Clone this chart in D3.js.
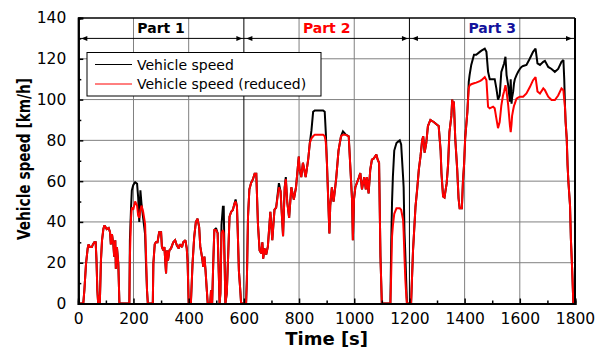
<!DOCTYPE html>
<html><head><meta charset="utf-8">
<script src="https://cdn.jsdelivr.net/npm/d3@7/dist/d3.min.js"></script>
<style>body{margin:0;background:#fff} svg{display:block}</style>
</head><body>
<svg id="c" width="609" height="360"></svg>
<script>
// ---- data ----
const time = [
  0,18,22,28,34,37,42,49,53,58,
  63,66,69,72,75,78,82,86,91,95,
  103,110,115,118,122,127,130,134,136,140,
  145,149,185,187,191,194,199,206,213,217,
  221,225,229,235,242,245,249,252,270,272,
  277,281,287,293,300,303,308,312,315,318,
  321,325,330,336,344,351,357,364,368,376,
  380,388,393,396,400,408,414,420,426,432,
  438,442,448,453,457,461,465,469,478,481,
  485,489,493,499,505,509,512,515,519,524,
  527,531,533,538,543,548,554,560,566,570,
  575,578,582,587,590,608,611,615,620,626,
  633,639,645,651,657,663,667,670,675,681,
  687,696,703,711,717,727,733,742,748,752,
  757,764,772,781,789,799,802,808,814,824,
  833,839,845,851,857,870,887,893,897,901,
  910,913,919,925,931,935,943,952,959,968,
  980,985,992,995,999,1004,1016,1022,1028,1036,
  1042,1046,1052,1058,1064,1070,1080,1085,1090,1095,
  1100,1131,1134,1137,1140,1145,1153,1160,1165,1170,
  1177,1179,1182,1185,1189,1191,1206,1213,1222,1228,
  1234,1240,1246,1250,1255,1261,1267,1276,1288,1300,
  1306,1313,1316,1322,1327,1335,1340,1345,1352,1355,
  1358,1361,1366,1373,1378,1382,1390,1394,1398,1402,
  1410,1415,1418,1424,1434,1442,1455,1461,1473,1479,
  1485,1491,1503,1509,1515,1521,1527,1533,1539,1543,
  1548,1552,1558,1564,1567,1570,1572,1576,1579,1582,
  1588,1594,1600,1606,1612,1624,1636,1648,1657,1664,
  1673,1685,1691,1703,1715,1727,1739,1751,1758,1761,
  1764,1766,1770,1773,1776,1782,1785,1790,1794,1800
];
const speedReduced = [
  0,0,6.5,19.6,27,29,27.7,27.7,29,30,
  30,21,6.5,0,4,0,21,31,36.7,38.3,
  36.5,37,35,29,34,29,23,31,17,27.7,
  19.6,0,0,23,42,47,46,50,48,43,
  42,45.7,48,45,39,26,6.5,0,0,19.6,
  29,30,30,35,35,27.7,26,27.7,21,14.7,
  26,21,26,27,30,31,28.5,27,29,27.7,
  30,31,27,21,0,0,19.6,32.6,40,41.6,
  37.5,28,23,18,23,16.4,8,0,0,6.5,
  0,19.7,36,36,34.5,15,0,5,34.5,36,
  34.5,15,0,5,23,42.6,45,45.9,49,50,
  47.5,34.5,16,6.5,0,0,12,42.6,56,59,
  61,63.6,63.6,39,26,24.6,30,22,27,24,
  28,45,31,46,47,57,55,33,57,61,
  50,42,57,51,57,72,65.6,62,69,62,
  70.5,78.7,81,82,82.8,82.8,82.8,82,79,69,
  34.4,48,57,50,57,62,75,82,82.8,82.8,
  82,69,51,31,51,57,61.5,64,56,62,
  56,62,54,65.6,70.5,71,73,70.5,69,23,
  0,0,15,33,38,44,46.7,46.7,46.7,46,
  41,35,23,12,3,0,0,26,47.5,56,
  65.6,72,80,82,74,78.7,87,90,89,87.7,
  87,75,64,52.5,52,59,68,84,92,100,
  96,99,81,66,51.6,46.7,46.7,60,68,81,
  94,105.5,107,107.5,108,108.3,109,109.5,111,109.5,
  96.5,95.7,96.5,95.7,90.8,86,89,97,102,104,
  107,104,97,87.5,84,88,92,95,97,98,
  100.5,101,101.4,101.4,101.4,103,106,109.5,111,104,
  103,105.5,104.6,101.4,99.8,99.8,102,105.5,104.6,100,
  95.7,89,81,68,59.8,48,32,15.7,0,0
];
const speed = [
  0,0,6.5,19.6,27,29,27.7,27.7,29,30,
  30,21,6.5,0,4,0,21,31,36.7,38.3,
  36.5,37,35,29,34,29,23,31,17,27.7,
  19.6,0,0,31,46.5,55.5,58,59.5,58.7,52,
  40,55.5,49,42,34,21,6.5,0,0,19.6,
  29,30,30,35,35,27.7,26,27.7,21,14.7,
  26,21,26,27,30,31,28.5,27,29,27.7,
  30,31,27,21,0,0,19.6,32.6,40,41.6,
  37.5,28,23,18,23,16.4,8,0,0,6.5,
  0,19.7,36,37,34.5,15,0,5,38.6,47.5,
  47.5,15,0,5,23,42.6,45,45.9,49,51,
  47.5,34.5,16,6.5,0,0,12,42.6,56,59,
  61,63.6,63.6,39,26,24.6,30,22,27,24,
  28,45,31,46,47,59,55,33,57,62,
  50,42,57,51,57,72,65.6,62,69,62,
  70.5,78.7,85,94,94.7,94.7,94.7,94,83.6,69,
  34.4,48,57,50,57,62,75,82,84.4,83,
  82,69,51,31,51,57,61.5,64,56,62,
  56,62,54,65.6,70.5,71,73,70.5,69,23,
  0,0,30,50,62,75,78.7,79.5,80,78,
  62,57,35,24.6,8,0,0,26,47.5,56,
  65.6,72,80,82,74,78.7,87,90,89,87.7,
  87,75,64,52.5,52,59,68,84,92,100,
  96,99,81,66,51.6,46.7,46.7,60,68,81,
  94,108.7,112,117,122,122,123.4,124,125,123.4,
  113.6,110,110,110,105.5,100,102,113.6,116,117.7,
  121,112,107,99,110,98,101,104,108,110,
  112,113.6,115,116,116.5,117,120,123.4,125,117.7,
  117,118.5,119,116,115,113.6,115,118.5,119.4,110,
  95.7,89,81,68,59.8,48,32,15.7,0,0
];
const xTicks = [0,200,400,600,800,1000,1200,1400,1600,1800];
const yTicks = [0,20,40,60,80,100,120,140];
const partNames = ["Part 1","Part 2","Part 3"];
const partBounds = [0,600,1200,1800];
const partColors = ["#000000","#ff0000","#12129c"];
const seriesNames = ["Vehicle speed","Vehicle speed (reduced)"];
const seriesColors = ["#000000","#ff0000"];
const xTitle = "Time [s]";
const yTitle = "Vehicle speed [km/h]";

// ---- drawing ----
const svg = d3.select("#c");
const font = "DejaVu Sans, Verdana, sans-serif";
const x = d3.scaleLinear().domain([0,1800]).range([78.3,575]);
const y = d3.scaleLinear().domain([0,140]).range([303.5,18]);
const L = x(0), R = x(1800), T = y(140), B = y(0);

svg.append("rect").attr("width",609).attr("height",360).attr("fill","#fff");

// grid
const g = svg.append("g");
g.selectAll(".gx").data(xTicks.filter(t => !partBounds.includes(t))).join("line")
  .attr("x1",d=>x(d)).attr("x2",d=>x(d)).attr("y1",T).attr("y2",B)
  .attr("stroke","#808080").attr("stroke-width",1);
g.selectAll(".gy").data(yTicks.filter(t => t>0 && t<140)).join("line")
  .attr("x1",L).attr("x2",R).attr("y1",d=>y(d)).attr("y2",d=>y(d))
  .attr("stroke","#808080").attr("stroke-width",1);
// part separators
g.selectAll(".ps").data(partBounds.slice(1,-1)).join("line")
  .attr("x1",d=>x(d)).attr("x2",d=>x(d)).attr("y1",T).attr("y2",B)
  .attr("stroke","#000").attr("stroke-width",1);

// clip
svg.append("defs").append("clipPath").attr("id","clip")
  .append("rect").attr("x",L).attr("y",T).attr("width",R-L).attr("height",B-T);

const idx = d3.range(time.length);
const line = vals => d3.line().x(i=>x(time[i])).y(i=>y(vals[i]))(idx);
const dg = svg.append("g").attr("clip-path","url(#clip)");
dg.append("path").attr("d",line(speed)).attr("fill","none")
  .attr("stroke",seriesColors[0]).attr("stroke-width",2).attr("stroke-linejoin","miter").attr("stroke-miterlimit",2);
dg.append("path").attr("d",line(speedReduced)).attr("fill","none")
  .attr("stroke",seriesColors[1]).attr("stroke-width",2).attr("stroke-linejoin","miter").attr("stroke-miterlimit",2);

// part arrow line
const ay = y(130);
svg.append("line").attr("x1",L).attr("x2",R).attr("y1",ay).attr("y2",ay)
  .attr("stroke","#000").attr("stroke-width",1);
partNames.forEach((p,i)=>{
  const xl = x(partBounds[i]) + (i===0?3:2.5);
  const xr = x(partBounds[i+1]) - (i===2?3:1.5);
  svg.append("path").attr("d",`M${xl},${ay} L${xl+6},${ay-2.5} L${xl+6},${ay+2.5} Z`).attr("fill","#000");
  svg.append("path").attr("d",`M${xr},${ay} L${xr-6},${ay-2.5} L${xr-6},${ay+2.5} Z`).attr("fill","#000");
  svg.append("text").attr("x",x((partBounds[i]+partBounds[i+1])/2)).attr("y",33)
    .attr("text-anchor","middle").attr("font-family",font).attr("font-weight","bold")
    .attr("font-size",14).attr("fill",partColors[i]).text(p);
});

// legend
const lg = svg.append("g");
lg.append("rect").attr("x",87).attr("y",52.5).attr("width",234).attr("height",43.5)
  .attr("fill","#fff").attr("stroke","#000").attr("stroke-width",1);
seriesNames.forEach((n,i)=>{
  const ly = 64.5 + i*19.5;
  lg.append("line").attr("x1",95).attr("x2",132).attr("y1",ly).attr("y2",ly)
    .attr("stroke",seriesColors[i]).attr("stroke-width",1);
  lg.append("text").attr("x",137).attr("y",ly+5).attr("font-family",font)
    .attr("font-size",14).attr("fill","#000").text(n);
});

// frame
svg.append("line").attr("x1",L).attr("x2",R).attr("y1",T).attr("y2",T).attr("stroke","#000").attr("stroke-width",1.5);
svg.append("line").attr("x1",R).attr("x2",R).attr("y1",T).attr("y2",B).attr("stroke","#000").attr("stroke-width",2);

// axes
const xa = svg.append("g").attr("transform",`translate(0,${B})`)
  .call(d3.axisBottom(x).tickValues(xTicks).tickSize(-5).tickPadding(10).tickFormat(d3.format("d")));
const xm = svg.append("g").attr("transform",`translate(0,${B})`)
  .call(d3.axisBottom(x).tickValues(d3.range(100,1800,200)).tickSize(-3).tickFormat(""));
const ya = svg.append("g").attr("transform",`translate(${L},0)`)
  .call(d3.axisLeft(y).tickValues(yTicks).tickSize(-5).tickPadding(12).tickFormat(d3.format("d")));
const ym = svg.append("g").attr("transform",`translate(${L},0)`)
  .call(d3.axisLeft(y).tickValues(d3.range(10,140,20)).tickSize(-3).tickFormat(""));
[xa,xm,ya,ym].forEach(a=>{
  a.select(".domain").attr("stroke","#000").attr("stroke-width",2);
  a.selectAll(".tick line").attr("stroke","#000").attr("stroke-width",1.5);
  a.selectAll("text").attr("font-family",font).attr("font-size",15.5).attr("fill","#000");
});
xa.selectAll("text").attr("dy","0.71em").attr("y",9);

// titles
svg.append("text").attr("x",(L+R)/2).attr("y",345).attr("text-anchor","middle")
  .attr("font-family",font).attr("font-weight","bold").attr("font-size",18).attr("fill","#000").text(xTitle);
svg.append("text").attr("transform","translate(29.5,159) rotate(-90)").attr("text-anchor","middle")
  .attr("font-family",font).attr("font-weight","bold").attr("font-size",18.5)
  .attr("textLength",162).attr("lengthAdjust","spacingAndGlyphs").attr("fill","#000").text(yTitle);
</script>
</body></html>
